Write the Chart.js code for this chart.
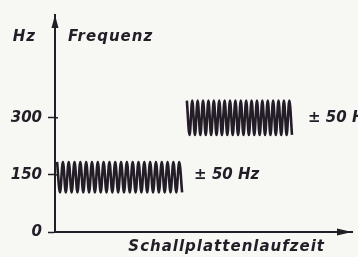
<!DOCTYPE html>
<html>
<head>
<meta charset="utf-8">
<script src="https://cdn.jsdelivr.net/npm/chart.js@4/dist/chart.umd.min.js"></script>
<style>
  html, body { margin: 0; padding: 0; background: #f7f7f4; }
  #wrap { width: 358px; height: 257px; }
</style>
</head>
<body>
<div id="wrap"><canvas id="chart"></canvas></div>
<script>
// frequency ticks (Hz)
const yTicks = [0, 150, 300];

// wobble around 150 Hz (peak / trough values)
const lowerWave = [
  184, 104, 184, 104, 184, 104, 184, 104, 184, 104, 184, 104,
  184, 104, 184, 104, 184, 104, 184, 104, 184, 104, 184, 104,
  184, 104, 184, 104, 184, 104, 184, 104, 184, 104, 184, 104,
  184, 104, 184, 104, 184, 104, 184, 104
];
// wobble around 300 Hz
const upperWave = [
  345, 255, 345, 255, 345, 255, 345, 255, 345, 255, 345, 255,
  345, 255, 345, 255, 345, 255, 345, 255, 345, 255, 345, 255,
  345, 255, 345, 255, 345, 255, 345, 255, 345, 255, 345, 255,
  345, 255, 345, 255
];

// record running time (arbitrary units 0..100)
const lowerSpan = [0.7, 42.8];
const upperSpan = [44.4, 79.8];

const labelSwing = "\u00b1 50 Hz";
const yTitleUnit = "Hz";
const yTitle = "Frequenz";
const xTitle = "Schallplattenlaufzeit";

const ink = "#221d26";
const labelFont = 'italic bold 15px "DejaVu Sans"';

function toPoints(values, span) {
  const step = (span[1] - span[0]) / (values.length - 1);
  return values.map((v, i) => ({ x: span[0] + i * step, y: v }));
}

const sketchPlugin = {
  id: "sketch",
  afterDraw(chart) {
    const ctx = chart.ctx;
    const area = chart.chartArea;
    const xs = chart.scales.x;
    const ys = chart.scales.y;
    ctx.save();
    ctx.fillStyle = ink;
    ctx.strokeStyle = ink;

    // arrow heads
    ctx.beginPath();
    ctx.moveTo(area.left, area.top);
    ctx.lineTo(area.left - 3.5, area.top + 13);
    ctx.lineTo(area.left + 3.5, area.top + 13);
    ctx.closePath();
    ctx.fill();

    ctx.beginPath();
    ctx.moveTo(area.right, area.bottom);
    ctx.lineTo(area.right - 15, area.bottom - 3.5);
    ctx.lineTo(area.right - 15, area.bottom + 3.5);
    ctx.closePath();
    ctx.fill();

    // tick marks cross the axis a little
    ctx.lineWidth = 1.5;
    yTicks.slice(1).forEach((v) => {
      const py = ys.getPixelForValue(v);
      ctx.beginPath();
      ctx.moveTo(area.left, py);
      ctx.lineTo(area.left + 3, py);
      ctx.stroke();
    });

    ctx.font = labelFont;
    ctx.letterSpacing = "1px";
    ctx.textBaseline = "middle";

    ctx.textAlign = "right";
    ctx.fillText(yTitleUnit, area.left - 19, area.top + 22);
    ctx.textAlign = "left";
    ctx.fillText(yTitle, area.left + 13, area.top + 22);

    ctx.letterSpacing = "0px";
    ctx.fillText(labelSwing, xs.getPixelForValue(lowerSpan[1]) + 12, ys.getPixelForValue(150));
    ctx.fillText(labelSwing, xs.getPixelForValue(upperSpan[1]) + 16, ys.getPixelForValue(300));

    ctx.letterSpacing = "1px";
    ctx.textAlign = "right";
    ctx.textBaseline = "top";
    ctx.fillText(xTitle, area.right - 27, area.bottom + 8);
    ctx.restore();
  }
};

new Chart(document.getElementById("chart"), {
  type: "line",
  data: {
    datasets: [
      {
        data: toPoints(lowerWave, lowerSpan),
        borderColor: ink,
        borderWidth: 2.6,
        pointRadius: 0,
        tension: 0.35,
      },
      {
        data: toPoints(upperWave, upperSpan),
        borderColor: ink,
        borderWidth: 2.6,
        pointRadius: 0,
        tension: 0.35,
      },
    ],
  },
  options: {
    responsive: true,
    maintainAspectRatio: false,
    animation: false,
    layout: { padding: { left: 0, top: 15, right: 6, bottom: 25 } },
    plugins: { legend: { display: false }, tooltip: { enabled: false } },
    scales: {
      x: {
        type: "linear",
        min: 0,
        max: 100,
        ticks: { display: false },
        grid: { display: false, drawTicks: false },
        border: { display: true, color: ink, width: 2 },
        afterFit(scale) { scale.height = 0; },
      },
      y: {
        min: 0,
        max: 570,
        afterBuildTicks(scale) {
          scale.ticks = yTicks.map((v) => ({ value: v }));
        },
        ticks: {
          color: ink,
          padding: 6,
          font: { family: "DejaVu Sans", size: 15, style: "italic", weight: "bold" },
        },
        grid: {
          drawOnChartArea: false,
          color: ink,
          tickLength: 7,
          tickWidth: 1.5,
        },
        border: { display: true, color: ink, width: 2 },
        afterFit(scale) { scale.width = 55; },
      },
    },
  },
  plugins: [sketchPlugin],
});
</script>
</body>
</html>
